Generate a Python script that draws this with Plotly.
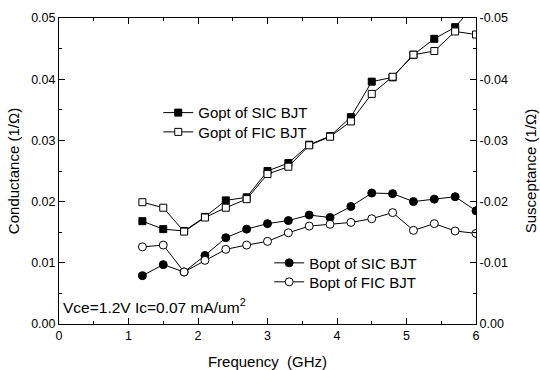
import plotly.graph_objects as go

freq = [1.2, 1.5, 1.8, 2.1, 2.4, 2.7, 3.0, 3.3, 3.6, 3.9, 4.2, 4.5, 4.8, 5.1, 5.4, 5.7, 6.0]
gopt_sic = [0.0168, 0.0155, 0.0152, 0.0175, 0.0202, 0.0207, 0.0250, 0.0263, 0.0293, 0.0307,
            0.0338, 0.0396, 0.0403, 0.0440, 0.0466, 0.0485, 0.0525]
gopt_fic = [0.0199, 0.0190, 0.0151, 0.0174, 0.0190, 0.0204, 0.0245, 0.0257, 0.0292, 0.0306,
            0.0331, 0.0376, 0.0404, 0.0440, 0.0446, 0.0478, 0.0473]
bopt_sic = [-0.0079, -0.0097, -0.0085, -0.0112, -0.0141, -0.0155, -0.0164, -0.0169, -0.0178, -0.0174,
            -0.0192, -0.0214, -0.0213, -0.0200, -0.0204, -0.0208, -0.0185]
bopt_fic = [-0.0126, -0.0129, -0.0085, -0.0104, -0.0122, -0.0129, -0.0135, -0.0149, -0.0160, -0.0163,
            -0.0166, -0.0172, -0.0182, -0.0153, -0.0164, -0.0152, -0.0148]

left_ticks = [0.0, 0.01, 0.02, 0.03, 0.04, 0.05]
left_labels = ["0.00", "0.01", "0.02", "0.03", "0.04", "0.05"]
right_ticks = [0.0, -0.01, -0.02, -0.03, -0.04, -0.05]
right_labels = ["0.00", "-0.01", "-0.02", "-0.03", "-0.04", "-0.05"]

FONT = "Arial, Liberation Sans, sans-serif"

fig = go.Figure()
fig.add_trace(go.Scatter(x=freq, y=gopt_sic, mode="lines+markers", name="Gopt of SIC BJT",
                         line=dict(color="black", width=1), showlegend=True,
                         marker=dict(symbol="square", size=7, color="black", line=dict(color="black", width=1)),
                         legend="legend"))
fig.add_trace(go.Scatter(x=freq, y=gopt_fic, mode="lines+markers", name="Gopt of FIC BJT",
                         line=dict(color="black", width=1), showlegend=True,
                         marker=dict(symbol="square", size=7, color="white", line=dict(color="black", width=1)),
                         legend="legend2"))
fig.add_trace(go.Scatter(x=freq, y=bopt_sic, mode="lines+markers", name="Bopt of SIC BJT", yaxis="y2",
                         line=dict(color="black", width=1), showlegend=True,
                         marker=dict(symbol="circle", size=8, color="black", line=dict(color="black", width=1)),
                         legend="legend3"))
fig.add_trace(go.Scatter(x=freq, y=bopt_fic, mode="lines+markers", name="Bopt of FIC BJT", yaxis="y2",
                         line=dict(color="black", width=1), showlegend=True,
                         marker=dict(symbol="circle", size=8, color="white", line=dict(color="black", width=1)),
                         legend="legend4"))

leg_common = dict(xanchor="left", yanchor="middle", bgcolor="rgba(0,0,0,0)",
                  font=dict(size=15), itemwidth=30)

fig.update_layout(
    width=540, height=370,
    showlegend=True,
    margin=dict(l=59, r=64, t=18, b=46),
    plot_bgcolor="white", paper_bgcolor="white",
    font=dict(family=FONT, size=12, color="black"),
    xaxis=dict(range=[0, 6], tickvals=[0, 1, 2, 3, 4, 5, 6], ticks="inside", ticklen=6,
               tickwidth=1, tickcolor="black", showline=True, linecolor="black", linewidth=1,
               mirror="ticks", showgrid=False, zeroline=False, automargin=False,
               minor=dict(dtick=0.5, ticks="inside", ticklen=3, tickcolor="black"),
               title=dict(text="Frequency  (GHz)", font=dict(size=15), standoff=15),
               tickfont=dict(size=12.5)),
    yaxis=dict(range=[0, 0.05], tickvals=left_ticks, ticktext=left_labels, ticks="inside",
               ticklen=6, tickcolor="black", showline=True, linecolor="black", linewidth=1,
               showgrid=False, zeroline=False, tickfont=dict(size=12.5), automargin=False,
               minor=dict(dtick=0.005, ticks="inside", ticklen=3, tickcolor="black"),
               title=dict(text="Conductance (1/Ω)", font=dict(size=15), standoff=7)),
    yaxis2=dict(range=[0, -0.05], overlaying="y", side="right", tickvals=right_ticks,
                ticktext=right_labels, ticks="inside", ticklen=6, tickcolor="black",
                showline=True, linecolor="black", linewidth=1, showgrid=False, zeroline=False,
                tickfont=dict(size=12.5), automargin=False,
                minor=dict(dtick=0.005, ticks="inside", ticklen=3, tickcolor="black"),
                title=dict(text="Susceptance (1/Ω)", font=dict(size=15), standoff=18)),
    legend=dict(x=0.238, y=0.69, **leg_common),
    legend2=dict(x=0.238, y=0.627, **leg_common),
    legend3=dict(x=0.504, y=0.199, **leg_common),
    legend4=dict(x=0.504, y=0.137, **leg_common),
    annotations=[dict(x=0.0, y=0.06, xref="paper", yref="paper", xanchor="left", yanchor="middle",
                      xshift=2,
                      text="Vce=1.2V Ic=0.07 mA/um<sup>2</sup>", showarrow=False, font=dict(size=15.5))],
)

fig.write_html("out.html", config={"displayModeBar": False},
               post_script="document.body.style.margin='0';")
